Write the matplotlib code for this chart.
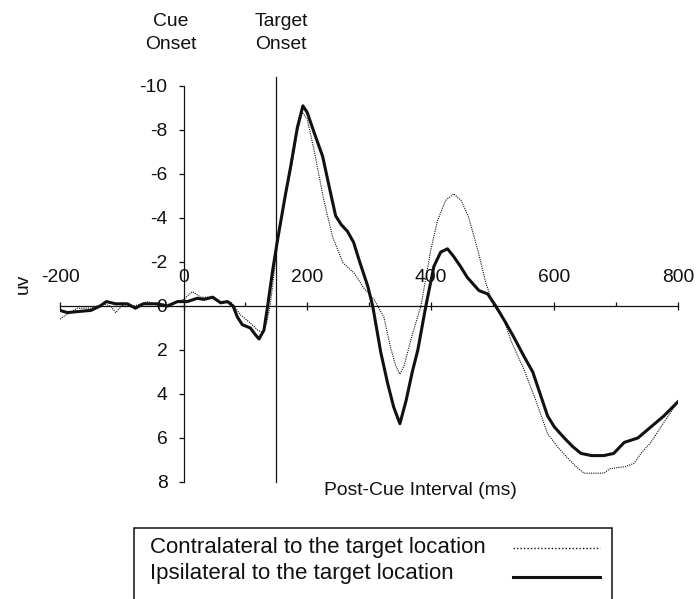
import matplotlib
matplotlib.use('Agg')
import matplotlib.pyplot as plt
from matplotlib.lines import Line2D
from matplotlib.patches import Rectangle

plt.rcParams['font.family'] = ['Liberation Sans', 'DejaVu Sans']
plt.rcParams['axes.unicode_minus'] = False

# ---- data ----
ipsi_t = [-200, -188, -170, -150, -135, -125, -110, -91, -78, -65, -42, -26,
          -10, 6, 22, 33, 47, 60, 71, 80, 87, 95, 108, 116, 122, 130, 136,
          144, 152, 165, 173, 184, 193, 200, 211, 225, 235, 246, 255, 265,
          275, 285, 298, 306, 319, 330, 340, 350, 360, 370, 379, 392, 405,
          416, 427, 437, 448, 459, 478, 492, 505, 520, 534, 551, 565, 589,
          600, 616, 630, 643, 660, 680, 696, 713, 735, 756, 777, 800]
ipsi_uv = [0.2, 0.3, 0.25, 0.2, 0.0, -0.2, -0.1, -0.1, 0.1, -0.1, -0.1, 0.0,
           -0.2, -0.2, -0.35, -0.3, -0.4, -0.15, -0.2, 0.0, 0.5, 0.85, 1.0,
           1.3, 1.5, 1.1, 0.0, -1.6, -3.0, -5.1, -6.3, -8.1, -9.1, -8.8,
           -7.9, -6.8, -5.5, -4.1, -3.7, -3.4, -2.9, -2.0, -0.9, 0.0, 2.1,
           3.5, 4.6, 5.35, 4.3, 3.0, 2.0, 0.0, -1.8, -2.45, -2.6, -2.25,
           -1.8, -1.3, -0.7, -0.55, 0.0, 0.7, 1.4, 2.3, 3.0, 5.0, 5.5, 6.0,
           6.4, 6.7, 6.8, 6.8, 6.7, 6.2, 6.0, 5.5, 5.0, 4.35]

contra_t = [-200, -190, -172, -150, -130, -118, -110, -100, -80, -58, -40,
            -20, 0, 14, 28, 44, 60, 76, 92, 109, 120, 128, 134, 140, 146, 152,
            165, 175, 184, 192, 200, 211, 220, 227, 241, 258, 276, 292, 308,
            324, 335, 343, 350, 357, 370, 384, 400, 411, 424, 437, 449, 461,
            476, 489, 500, 508, 518, 530, 551, 570, 589, 605, 621, 635, 648,
            665, 680, 690, 702, 715, 729, 740, 756, 777, 800]
contra_uv = [0.6, 0.4, 0.1, 0.1, -0.1, 0.0, 0.3, 0.0, 0.0, -0.2, 0.0, -0.1,
             -0.3, -0.65, -0.4, -0.4, -0.1, -0.2, 0.4, 0.8, 1.1, 1.2, 0.8,
             0.0, -1.4, -2.9, -5.0, -6.4, -7.9, -8.8, -8.5, -7.1, -5.8, -4.8,
             -3.15, -1.95, -1.5, -0.8, -0.3, 0.5, 1.9, 2.7, 3.1, 2.7, 1.3,
             0.0, -2.55, -3.9, -4.8, -5.1, -4.8, -4.05, -2.55, -1.05, -0.15,
             0.2, 0.6, 1.6, 2.9, 4.3, 5.8, 6.4, 6.9, 7.3, 7.6, 7.6, 7.6, 7.4,
             7.35, 7.3, 7.15, 6.7, 6.2, 5.3, 4.35]

x_major = [-200, 0, 200, 400, 600, 800]
x_minor = [-100, 100, 300, 500, 700]
y_ticks = [-10, -8, -6, -4, -2, 0, 2, 4, 6, 8]
target_onset = 150

labels = ['Contralateral to the target location',
          'Ipsilateral to the target location']

W, H = 696, 599
fs = 13.9
fig = plt.figure(figsize=(W / 100, H / 100), dpi=100)
ax = fig.add_axes([60 / W, 1 - 482 / H, 618 / W, 396 / H])
ax.set_xlim(-200, 800)
ax.set_ylim(8, -10)

ink = '#111111'
ax.plot(contra_t, contra_uv, color=ink, lw=0.8, ls=(0, (1, 1)))
ax.plot(ipsi_t, ipsi_uv, color=ink, lw=2.2, solid_joinstyle='round')
ax.plot([target_onset, target_onset], [-10.4, 8], color=ink, lw=0.9,
        clip_on=False)

ax.spines['right'].set_visible(False)
ax.spines['left'].set_position(('data', 0))
ax.spines['bottom'].set_position(('data', 0))
ax.spines['top'].set_position(('data', 0))
ax.spines['top'].set_visible(False)
for s in ['left', 'bottom']:
    ax.spines[s].set_linewidth(0.9)
    ax.spines[s].set_color(ink)

ax.set_xticks(x_major)
ax.set_xticklabels([str(v) for v in x_major])
ax.set_xticks(x_minor, minor=True)
ax.tick_params(axis='x', which='major', direction='inout', length=6,
               width=0.9, pad=11.5, labelsize=fs, colors=ink,
               bottom=True, top=False, labelbottom=False, labeltop=True)
ax.tick_params(axis='x', which='minor', direction='in', length=3,
               width=0.9, bottom=True, top=False, colors=ink)

ax.set_yticks(y_ticks)
ax.set_yticklabels([str(v) for v in y_ticks])
ax.tick_params(axis='y', direction='out', length=3.6, width=0.9, pad=8,
               labelsize=fs, colors=ink)

ax.set_ylabel('uv', fontsize=fs, color=ink)
ax.yaxis.set_label_coords(-0.046, 0.5)
ax.set_xlabel('Post-Cue Interval (ms)', fontsize=fs, color=ink)
ax.xaxis.set_label_coords(0.5825, 0.0)

fig.text(171 / W, 1 - 33 / H, 'Cue\nOnset', ha='center', va='center',
         fontsize=fs, color=ink, linespacing=1.5)
fig.text(281 / W, 1 - 33 / H, 'Target\nOnset', ha='center', va='center',
         fontsize=fs, color=ink, linespacing=1.5)

# legend box (bottom edge runs off the figure)
fig.add_artist(Rectangle((134 / W, -0.1), (612 - 134) / W, 0.1 + 1 - 528 / H,
                         transform=fig.transFigure, fill=False, lw=1.1,
                         edgecolor=ink))
fig.text(150 / W, 1 - 548 / H, labels[0], ha='left', va='center',
         fontsize=16, color=ink)
fig.text(150 / W, 1 - 573 / H, labels[1], ha='left', va='center',
         fontsize=16, color=ink)
fig.add_artist(Line2D([513 / W, 600 / W], [1 - 548 / H, 1 - 548 / H],
                      transform=fig.transFigure, color=ink, lw=1.0,
                      ls=(0, (1, 1.5))))
fig.add_artist(Line2D([513 / W, 600 / W], [1 - 577 / H, 1 - 577 / H],
                      transform=fig.transFigure, color=ink, lw=2.2))

fig.savefig('out.png', dpi=100)
